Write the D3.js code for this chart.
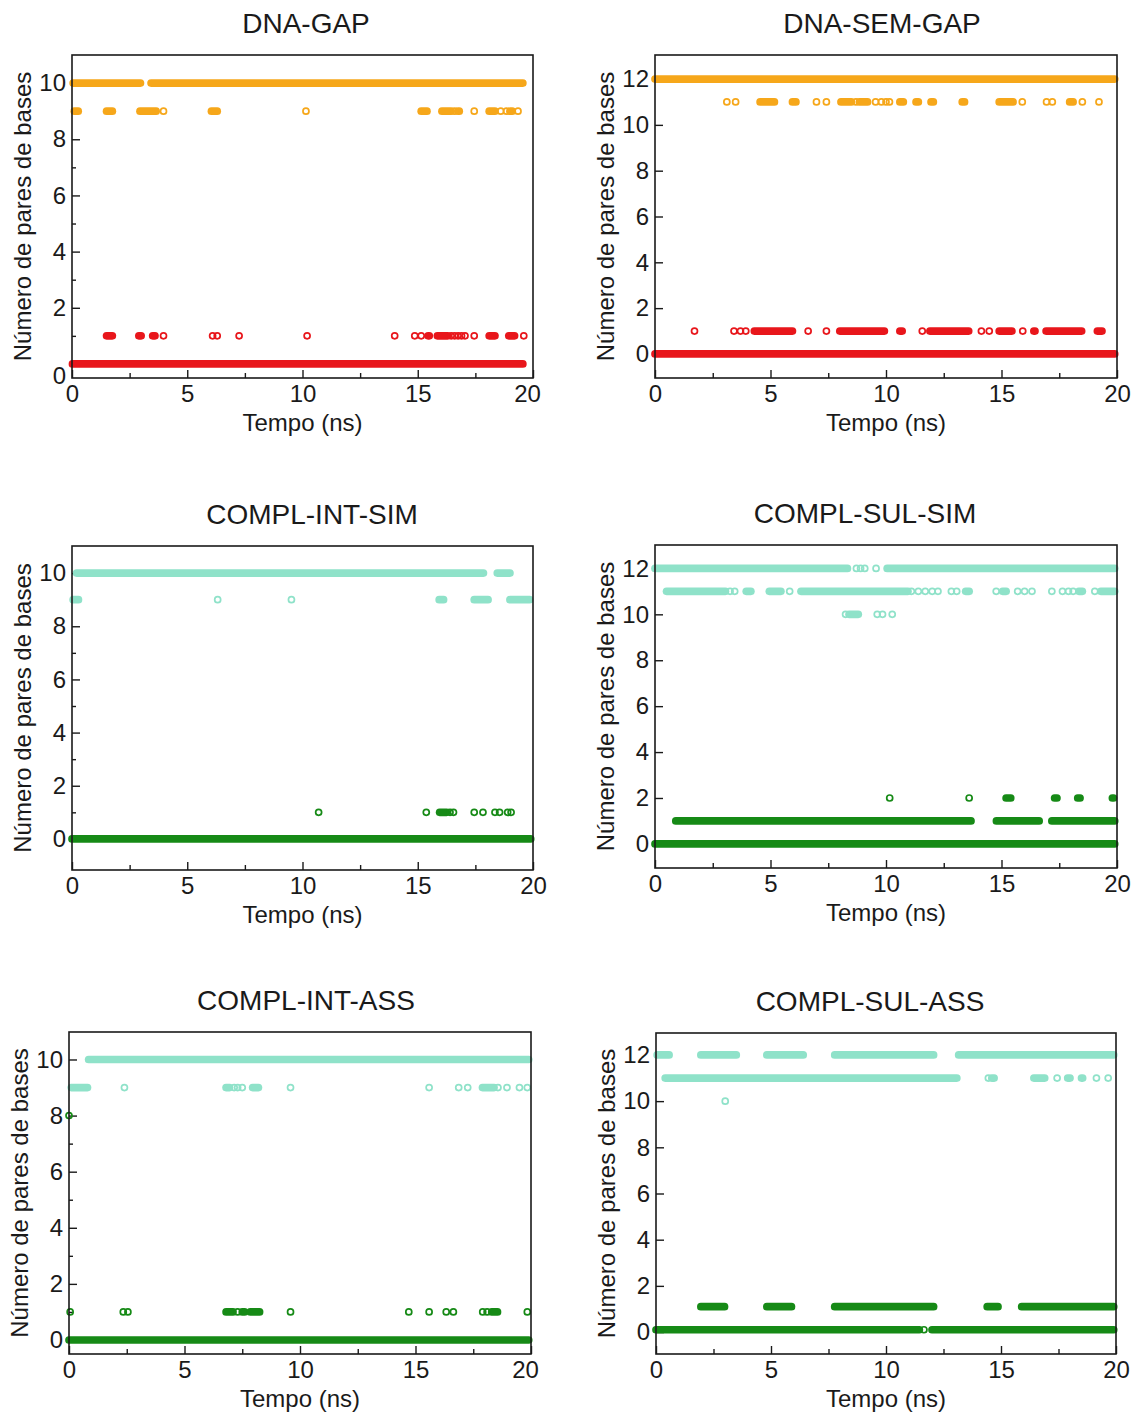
<!DOCTYPE html>
<html><head><meta charset="utf-8">
<script src="https://cdn.jsdelivr.net/npm/d3@7/dist/d3.min.js"></script>
<style>
body{margin:0;background:#fff;}
svg{display:block;}
text{font-family:"Liberation Sans",Arial,sans-serif;fill:#1a1a1a;}
</style></head>
<body>
<svg id="chart" width="1132" height="1416"></svg>
<script>
// ---------- DATA ----------
const panelTitles = ["DNA-GAP","DNA-SEM-GAP","COMPL-INT-SIM","COMPL-SUL-SIM","COMPL-INT-ASS","COMPL-SUL-ASS"];
const xTickValues = [0,5,10,15,20];
const xMinorTicks = [2.5,7.5,12.5,17.5];
const yTicks10 = [0,2,4,6,8,10];
const yTicks12 = [0,2,4,6,8,10,12];
const yMinor10 = [1,3,5,7,9];
const yDomains = [[-0.5,11],[-1.05,13.05],[-1.17,11.02],[-1.05,13.02],[-0.5,10.98],[-0.95,12.95]];

// runs: [level, tStart, tEnd]; a single value [level, t] is one point
const dnaGapUpper = [[10,0.05,2.97],[10,3.43,19.56],
  [9,0.1,0.27],[9,1.5,1.75],[9,2.95,3.65],[9,3.97],[9,6.05,6.3],[9,10.15],[9,15.15,15.4],
  [9,16.05,16.45],[9,16.6],[9,16.75,16.8],[9,17.45],[9,18.1,18.35],[9,18.6],[9,18.85],[9,19.0,19.1],[9,19.35]];
const dnaGapLower = [[0,0.02,19.56],
  [1,1.5,1.75],[1,2.9,3.0],[1,3.5,3.6],[1,3.97],[1,6.1],[1,6.3],[1,7.25],[1,10.2],[1,14.0],[1,14.87],[1,15.15],
  [1,15.45,15.5],[1,15.85,16.3],[1,16.45],[1,16.6],[1,16.75],[1,16.9],[1,17.05],[1,17.45],[1,18.1,18.35],[1,18.95,19.2],[1,19.6]];
const dnaSemGapUpper = [[12,0.0,19.9],
  [11,3.11],[11,3.49],[11,4.55,5.17],[11,5.95,6.1],[11,6.99],[11,7.42],[11,8.05,8.5],[11,8.7],[11,8.85,9.2],
  [11,9.55],[11,9.8],[11,10.0],[11,10.15],[11,10.6,10.75],[11,11.3,11.4],[11,11.95,12.05],[11,13.3,13.4],
  [11,14.9,15.5],[11,15.9],[11,16.95],[11,17.2],[11,17.95,18.1],[11,18.5],[11,19.22]];
const dnaSemGapLower = [[0,0.0,19.9],
  [1,1.71],[1,3.42],[1,3.7],[1,3.93],[1,4.3,5.95],[1,6.63],[1,7.42],[1,8.0,9.93],[1,10.6,10.7],[1,11.57],
  [1,11.9,13.58],[1,14.13],[1,14.47],[1,14.9,15.45],[1,15.92],[1,16.4,16.45],[1,16.93,18.47],[1,19.15,19.35]];
const complIntSimUpper = [[10,0.2,17.85],[10,18.45,19.0],
  [9,0.05,0.28],[9,6.32],[9,9.52],[9,15.93,16.12],[9,17.45,18.05],[9,19.0,19.85]];
const complIntSimLower = [[0,0.0,19.9],
  [1,10.7],[1,15.37],[1,15.95,16.25],[1,16.4],[1,16.55],[1,17.45],[1,17.83],[1,18.35],[1,18.55],[1,18.9],[1,19.05]];
const complSulSimUpper = [[12,0.0,8.33],[12,8.72],[12,8.9],[12,9.08],[12,9.57],[12,10.05,19.9],
  [11,0.5,3.05],[11,3.25],[11,3.45],[11,3.95,4.15],[11,4.95,5.45],[11,5.83],[11,6.32,10.95],
  [11,11.1],[11,11.4],[11,11.7],[11,12.0],[11,12.25],[11,12.83],[11,13.06],[11,13.45,13.6],[11,14.77],
  [11,15.05,15.2],[11,15.7],[11,16.0],[11,16.32],[11,17.18],[11,17.64],[11,17.9],[11,18.1],[11,18.35,18.5],
  [11,19.04],[11,19.3,19.9],
  [10,8.25],[10,8.4,8.8],[10,9.62],[10,9.85],[10,10.27]];
const complSulSimLower = [[0,0.0,19.9],
  [1,0.9,13.68],[1,14.78,16.63],[1,17.18,19.9],
  [2,10.16],[2,13.6],[2,15.2,15.4],[2,17.3,17.4],[2,18.3,18.4],[2,19.8,19.85]];
const complIntAssUpper = [[10,0.85,19.9],
  [9,0.1,0.8],[9,2.4],[9,6.8,6.95],[9,7.15],[9,7.3],[9,7.5],[9,7.95,8.2],[9,9.59],[9,15.59],[9,16.87],[9,17.26],
  [9,17.9,18.4],[9,18.57],[9,18.96],[9,19.5],[9,19.84]];
const complIntAssLower = [[0,0.0,19.9],[8,0.0],
  [1,0.05],[1,2.35],[1,2.55],[1,6.8,7.1],[1,7.3],[1,7.5,7.6],[1,7.85,8.25],[1,9.59],[1,14.71],[1,15.59],
  [1,16.33],[1,16.64],[1,17.91],[1,18.1],[1,18.3,18.55],[1,19.84]];
const complSulAssUpper = [[12,0.05,0.57],[12,1.95,3.49],[12,4.82,6.4],[12,7.77,12.07],[12,13.16,19.9],
  [11,0.4,13.08],[11,14.45],[11,14.6,14.7],[11,16.43,16.9],[11,17.44],[11,17.9,18.0],[11,18.5,18.55],[11,19.15],[11,19.66],
  [10,3.01]];
const complSulAssLower = [[0.1,0.0,11.45],[0.1,11.65],[0.1,12.0,19.9],
  [1.1,1.95,2.98],[1.1,4.82,5.89],[1.1,7.77,12.07],[1.1,14.4,14.87],[1.1,15.9,19.9]];

const upperSeries = [dnaGapUpper,dnaSemGapUpper,complIntSimUpper,complSulSimUpper,complIntAssUpper,complSulAssUpper];
const lowerSeries = [dnaGapLower,dnaSemGapLower,complIntSimLower,complSulSimLower,complIntAssLower,complSulAssLower];
const xLabel = "Tempo (ns)";
const yLabel = "Número de pares de bases";

// ---------- LAYOUT / STYLE ----------
const frames = [
  {x0:72,x1:533,y0:55,y1:378,tx:306},
  {x0:655,x1:1117,y0:55,y1:378,tx:882},
  {x0:72,x1:533,y0:546,y1:870,tx:312},
  {x0:655,x1:1117,y0:545,y1:868,tx:865},
  {x0:69,x1:531,y0:1032,y1:1354,tx:306},
  {x0:656,x1:1116,y0:1033,y1:1354,tx:870}
];
const upperColors = ["#F6A71A","#F6A71A","#8FE2C9","#8FE2C9","#8FE2C9","#8FE2C9"];
const lowerColors = ["#E8161B","#E8161B","#168A16","#168A16","#168A16","#168A16"];
const nudges = [{y0:12,x20:-6},{},{},{},{x20:-6},{}];

const svg = d3.select("#chart");
const R = 3.0, SW = 1.7, BAND = 2*R+SW;

frames.forEach((f,i)=>{
  const x = d3.scaleLinear().domain([0,20]).range([f.x0,f.x1]);
  const y = d3.scaleLinear().domain(yDomains[i]).range([f.y1,f.y0]);
  const g = svg.append("g");
  const twelve = yDomains[i][1] > 12;

  const gx = g.append("g").attr("transform",`translate(0,${f.y1})`)
    .call(d3.axisBottom(x).tickValues(xTickValues).tickSizeInner(-8).tickSizeOuter(0).tickPadding(7).tickFormat(d3.format("d")));
  gx.append("g").call(d3.axisBottom(x).tickValues(xMinorTicks).tickSizeInner(-5).tickSizeOuter(0).tickFormat(""));
  const gy = g.append("g").attr("transform",`translate(${f.x0},0)`)
    .call(d3.axisLeft(y).tickValues(twelve?yTicks12:yTicks10).tickSizeInner(-8).tickSizeOuter(0).tickPadding(6).tickFormat(d3.format("d")));
  if(!twelve) gy.append("g").call(d3.axisLeft(y).tickValues(yMinor10).tickSizeInner(-4).tickSizeOuter(0).tickFormat(""));
  g.selectAll(".domain").remove();
  g.selectAll(".tick line").attr("stroke","#1a1a1a").attr("stroke-width",1.4);
  g.selectAll(".tick text").style("font-size","24px").attr("fill","#1a1a1a");
  const nd = nudges[i];
  if(nd.y0) gy.selectAll(".tick text").filter(d=>d===0).attr("transform",`translate(0,${nd.y0})`);
  if(nd.x20) gx.selectAll(".tick text").filter(d=>d===20).attr("transform",`translate(${nd.x20},0)`);

  const plot = g.append("g");
  [[lowerSeries[i],lowerColors[i]],[upperSeries[i],upperColors[i]]].forEach(([runs,col])=>{
    const bands = runs.filter(r=>r.length===3);
    const pts = runs.filter(r=>r.length===2);
    plot.selectAll(null).data(bands).enter().append("line")
      .attr("x1",d=>x(d[1])).attr("x2",d=>x(d[2]))
      .attr("y1",d=>y(d[0])).attr("y2",d=>y(d[0]))
      .attr("stroke",col).attr("stroke-width",BAND).attr("stroke-linecap","round");
    plot.selectAll(null).data(pts).enter().append("circle")
      .attr("cx",d=>x(d[1])).attr("cy",d=>y(d[0])).attr("r",R)
      .attr("fill","none").attr("stroke",col).attr("stroke-width",SW);
  });

  g.append("rect").attr("x",f.x0).attr("y",f.y0).attr("width",f.x1-f.x0).attr("height",f.y1-f.y0)
    .attr("fill","none").attr("stroke","#1a1a1a").attr("stroke-width",1.6);

  g.append("text").attr("x",f.tx).attr("y",f.y0-22).attr("text-anchor","middle")
    .style("font-size","28px").text(panelTitles[i]);
  g.append("text").attr("x",(f.x0+f.x1)/2).attr("y",f.y1+53).attr("text-anchor","middle")
    .style("font-size","24px").text(xLabel);
  g.append("text").attr("transform",`translate(${f.x0-41},${(f.y0+f.y1)/2}) rotate(-90)`)
    .attr("text-anchor","middle").style("font-size","24px").text(yLabel);
});
</script>
</body></html>
